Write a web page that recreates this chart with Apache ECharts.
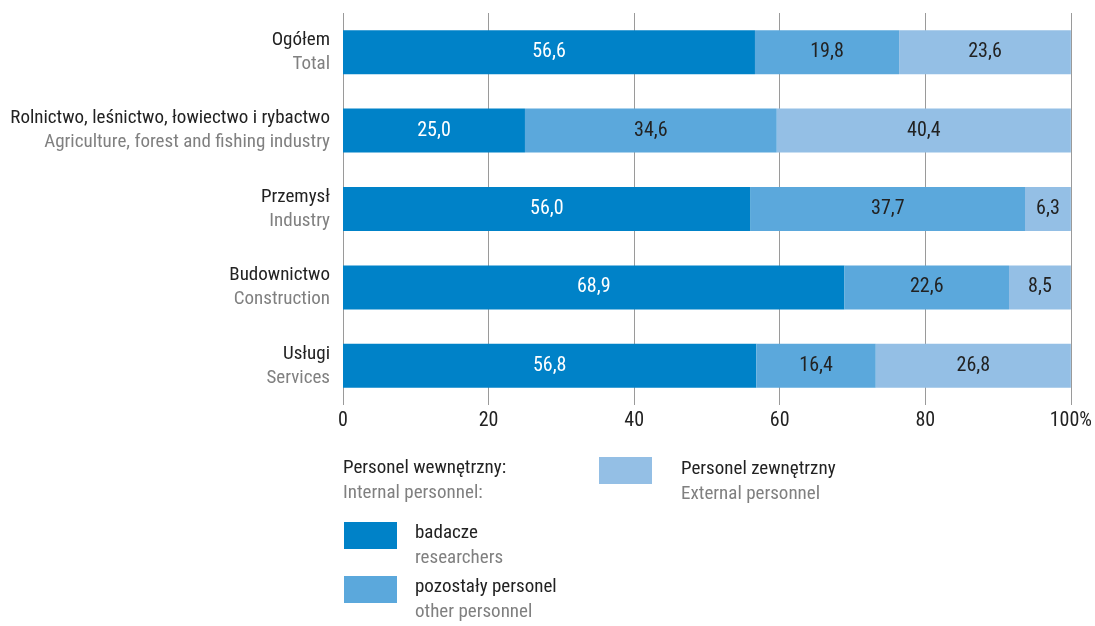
<!DOCTYPE html>
<html>
<head>
<meta charset="utf-8">
<script src="https://cdn.jsdelivr.net/npm/echarts@6/dist/echarts.min.js"></script>
<style>
  html, body { margin: 0; padding: 0; background: #fff; }
  #chart { width: 1095px; height: 626px; }
</style>
</head>
<body>
<div id="chart"></div>
<script>
// kategorie (PL / EN)
const categoriesPl = ['Ogółem', 'Rolnictwo, leśnictwo, łowiectwo i rybactwo', 'Przemysł', 'Budownictwo', 'Usługi']
const categoriesEn = ['Total', 'Agriculture, forest and fishing industry', 'Industry', 'Construction', 'Services']

// udział w %
const researchers = [56.6, 25.0, 56.0, 68.9, 56.8]
const otherPersonnel = [19.8, 34.6, 37.7, 22.6, 16.4]
const externalPersonnel = [23.6, 40.4, 6.3, 8.5, 26.8]

const xTicks = [0, 20, 40, 60, 80, 100]

const FONT = '"Roboto Condensed", "Liberation Sans Narrow", sans-serif'
const FS = 19 // opisy
const FN = 20 // liczby
const colors = ['#0082c8', '#5ba8dc', '#94bfe5']

const fmt = v => v.toFixed(1).replace('.', ',')

const legendRich = {
  pl: { fontFamily: FONT, fontSize: FS, color: '#222', lineHeight: 25 },
  en: { fontFamily: FONT, fontSize: FS, color: '#808080', lineHeight: 25 }
}

function legendBox (name, left, top, padTop, padLeft) {
  return {
    left: left,
    top: top,
    padding: 0,
    orient: 'vertical',
    selectedMode: false,
    itemWidth: 53,
    itemHeight: 27,
    icon: 'rect',
    data: [name],
    formatter: function (n) {
      const parts = n.split('|')
      return '{pl|' + parts[0] + '}\n{en|' + parts[1] + '}'
    },
    textStyle: {
      padding: [padTop, 0, 0, padLeft],
      rich: legendRich
    }
  }
}

function barLabel (color) {
  return { show: true, position: 'inside', color: color, fontFamily: FONT, fontSize: FN, formatter: p => fmt(p.value) }
}

const chart = echarts.init(document.getElementById('chart'))
const option = {
  animation: false,
  textStyle: { fontFamily: FONT },
  grid: { left: 343, width: 734, top: 13, bottom: 221, containLabel: false },
  xAxis: {
    type: 'value',
    min: xTicks[0],
    max: xTicks[xTicks.length - 1],
    interval: 20,
    axisLine: { show: false },
    axisTick: { show: false },
    splitLine: { show: true, lineStyle: { color: '#9a9a9a', width: 1 } },
    axisLabel: {
      margin: 6,
      fontFamily: FONT,
      fontSize: FN,
      color: '#222',
      formatter: v => (v === 100 ? '100%' : String(v))
    }
  },
  yAxis: {
    type: 'category',
    inverse: true,
    data: categoriesPl,
    axisLine: { show: false },
    axisTick: { show: false },
    axisLabel: {
      margin: 13,
      formatter: function (value, idx) {
        return '{pl|' + value + '}\n{en|' + categoriesEn[idx] + '}'
      },
      rich: {
        pl: { fontFamily: FONT, fontSize: FS, color: '#222', lineHeight: 24, align: 'right' },
        en: { fontFamily: FONT, fontSize: FS, color: '#808080', lineHeight: 24, align: 'right' }
      }
    }
  },
  legend: [
    legendBox('badacze|researchers', 344, 522, 20, 13),
    legendBox('pozostały personel|other personnel', 344, 576, 20, 13),
    legendBox('Personel zewnętrzny|External personnel', 599, 457, 22, 24)
  ],
  graphic: [
    {
      type: 'text',
      left: 343,
      top: 459,
      style: {
        text: '{pl|Personel wewnętrzny:}\n{en|Internal personnel:}',
        rich: {
          pl: { fontFamily: FONT, fontSize: FS, fill: '#222', lineHeight: 25 },
          en: { fontFamily: FONT, fontSize: FS, fill: '#808080', lineHeight: 25 }
        }
      }
    }
  ],
  series: [
    {
      name: 'badacze|researchers',
      type: 'bar',
      stack: 'total',
      barWidth: 44,
      itemStyle: { color: colors[0] },
      label: barLabel('#fff'),
      data: researchers
    },
    {
      name: 'pozostały personel|other personnel',
      type: 'bar',
      stack: 'total',
      barWidth: 44,
      itemStyle: { color: colors[1] },
      label: barLabel('#222'),
      data: otherPersonnel
    },
    {
      name: 'Personel zewnętrzny|External personnel',
      type: 'bar',
      stack: 'total',
      barWidth: 44,
      itemStyle: { color: colors[2] },
      label: barLabel('#222'),
      data: externalPersonnel
    }
  ]
}
chart.setOption(option)
</script>
</body>
</html>
